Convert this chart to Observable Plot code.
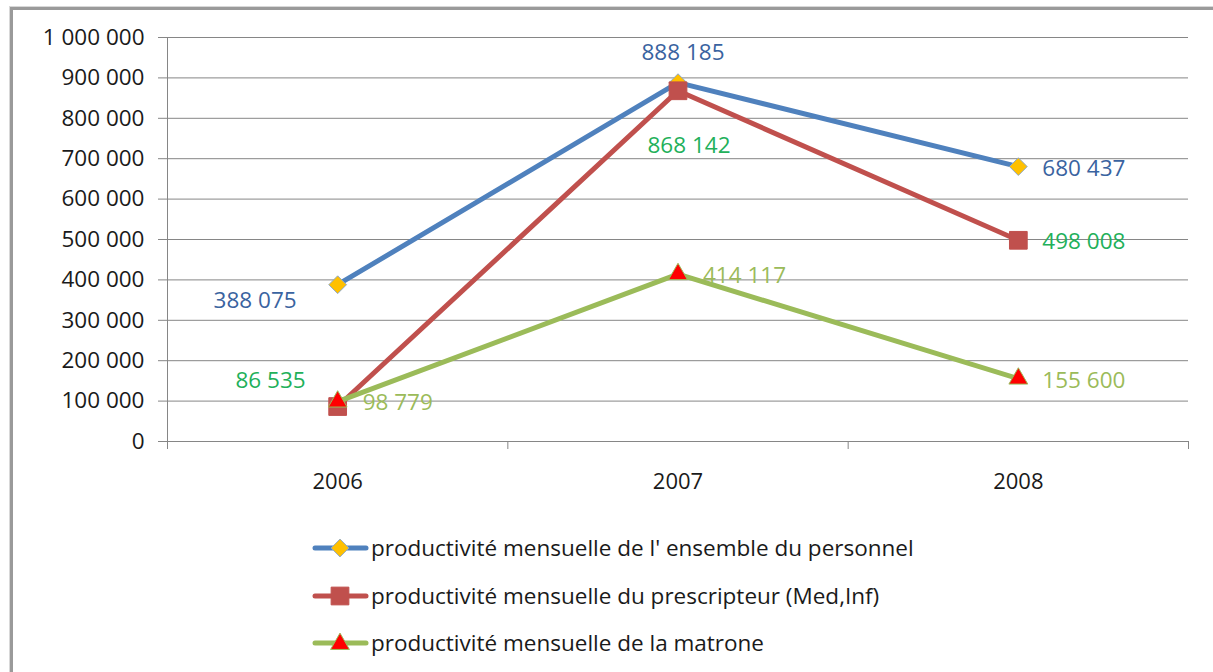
<!DOCTYPE html>
<html>
<head>
<meta charset="utf-8">
<script src="https://cdn.jsdelivr.net/npm/d3@7"></script>
<script src="https://cdn.jsdelivr.net/npm/@observablehq/plot@0.6"></script>
<style>
  html, body { margin: 0; padding: 0; background: #fff; overflow: hidden; }
  #wrap { position: relative; width: 1213px; height: 672px; }
  #frame { position: absolute; left: 10px; top: 7px; width: 1300px; height: 800px;
           border-left: 3px solid #9a9a9a; border-top: 3px solid #9a9a9a;
           box-shadow: -1px -1px 0 #d8d8d8; }
  #chart { position: absolute; left: 0; top: 0; }
  #legend { position: absolute; left: 0; top: 500px; }
</style>
</head>
<body>
<div id="wrap"><div id="frame"></div><div id="chart"></div><div id="legend"></div></div>
<script>
// ---- data ----
const years = [2006, 2007, 2008];
const seriesNames = [
  "productivité mensuelle de l' ensemble du personnel",
  "productivité mensuelle du prescripteur (Med,Inf)",
  "productivité mensuelle de la matrone"
];
const ensemble = [388075, 888185, 680437];
const prescripteur = [86535, 868142, 498008];
const matrone = [98779, 414117, 155600];
const yTicks = [0, 100000, 200000, 300000, 400000, 500000, 600000, 700000, 800000, 900000, 1000000];
const xBoundaries = [2005.5, 2006.5, 2007.5, 2008.5];

// ---- styles ----
const lineColors = ["#4F81BD", "#C0504D", "#9BBB59"];
const labelColors = ["#3A63A0", "#22B05A", "#9BBB59"];
const symbols = ["diamond2", "square", "triangle"];
const symbolR = [8, 10, 7];
const symbolFill = ["#FFC000", "#C0504D", "#FF0000"];
const symbolStroke = ["#8EA9C8", "#C0504D", "#9BBB59"];
// label placement per series, per year index
const labelLayout = [
  [{dx: -41, dy: 16, a: "end"}, {dx: 5, dy: -30, a: "middle"}, {dx: 24, dy: 2, a: "start"}],
  [{dx: -32, dy: -26, a: "end"}, {dx: 11, dy: 55, a: "middle"}, {dx: 24, dy: 1, a: "start"}],
  [{dx: 25, dy: 1, a: "start"}, {dx: 25, dy: 2, a: "start"}, {dx: 24, dy: 2, a: "start"}]
];

const allValues = [ensemble, prescripteur, matrone];
const rows = allValues.map((vals, s) => years.map((y, i) => ({
  year: y, value: vals[i], series: seriesNames[s], s, i,
  dx: labelLayout[s][i].dx, dy: labelLayout[s][i].dy, anchor: labelLayout[s][i].a
})));

const fmt = v => d3.format(",")(v).replace(/,/g, " ");
const font = "'Open Sans', sans-serif";

const seriesMarks = rows.flatMap((r, s) => [
  Plot.line(r, {x: "year", y: "value", stroke: lineColors[s], strokeWidth: 5, strokeLinejoin: "round", strokeLinecap: "round"}),
  Plot.dot(r, {x: "year", y: "value", symbol: () => symbols[s], r: symbolR[s], fill: symbolFill[s], stroke: symbolStroke[s], strokeWidth: 1})
]);
// individual offsets (dx/dy are constants per mark in Plot) -> one text mark per point
const pointLabels = rows.flat().map(d => Plot.text([d], {
  x: "year", y: "value", text: v => fmt(v.value), fill: labelColors[d.s],
  textAnchor: d.anchor, dx: d.dx, dy: d.dy, fontSize: 22.5
}));

const chart = Plot.plot({
  width: 1213, height: 500,
  marginLeft: 167, marginRight: 25, marginTop: 37, marginBottom: 59,
  x: {type: "linear", domain: [2005.5, 2008.5]},
  y: {domain: [0, 1000000]},
  style: {fontFamily: font, fontSize: "22px", color: "#1a1a1a", background: "transparent", overflow: "visible"},
  marks: [
    Plot.gridY(yTicks, {stroke: "#868686", strokeOpacity: 1, strokeWidth: 1}),
    Plot.axisY(yTicks, {tickSize: 9, tickPadding: 14, tickFormat: fmt, stroke: "#868686", fill: "#1a1a1a", fontSize: 22.5, label: null}),
    Plot.ruleX([2005.5], {stroke: "#868686"}),
    Plot.axisX(xBoundaries, {tickSize: 8, tickFormat: () => "", stroke: "#868686", label: null}),
    Plot.axisX(years, {tickSize: 0, tickPadding: 32, tickFormat: d => String(d), fill: "#1a1a1a", fontSize: 22, label: null}),
    ...seriesMarks,
    ...pointLabels
  ]
});
document.getElementById("chart").appendChild(chart);

// ---- legend ----
const lg = d3.select("#legend").append("svg").attr("width", 1213).attr("height", 172);
const rowY = [48, 96, 143];
seriesNames.forEach((name, s) => {
  const g = lg.append("g").attr("transform", `translate(0,${rowY[s]})`);
  g.append("line").attr("x1", 315).attr("x2", 366).attr("y1", 0).attr("y2", 0)
    .attr("stroke", lineColors[s]).attr("stroke-width", 5).attr("stroke-linecap", "round");
  g.append("path").attr("d", d3.symbol(s === 0 ? d3.symbolDiamond2 : s === 1 ? d3.symbolSquare : d3.symbolTriangle, Math.PI * symbolR[s] * symbolR[s])())
    .attr("transform", `translate(340,${s === 2 ? 1 : 0})`)
    .attr("fill", symbolFill[s]).attr("stroke", symbolStroke[s]).attr("stroke-width", 1);
  g.append("text").attr("x", 371).attr("y", 0).attr("dy", "0.35em")
    .attr("font-family", font).attr("font-size", 22.5).attr("fill", "#1a1a1a").text(name);
});
</script>
</body>
</html>
